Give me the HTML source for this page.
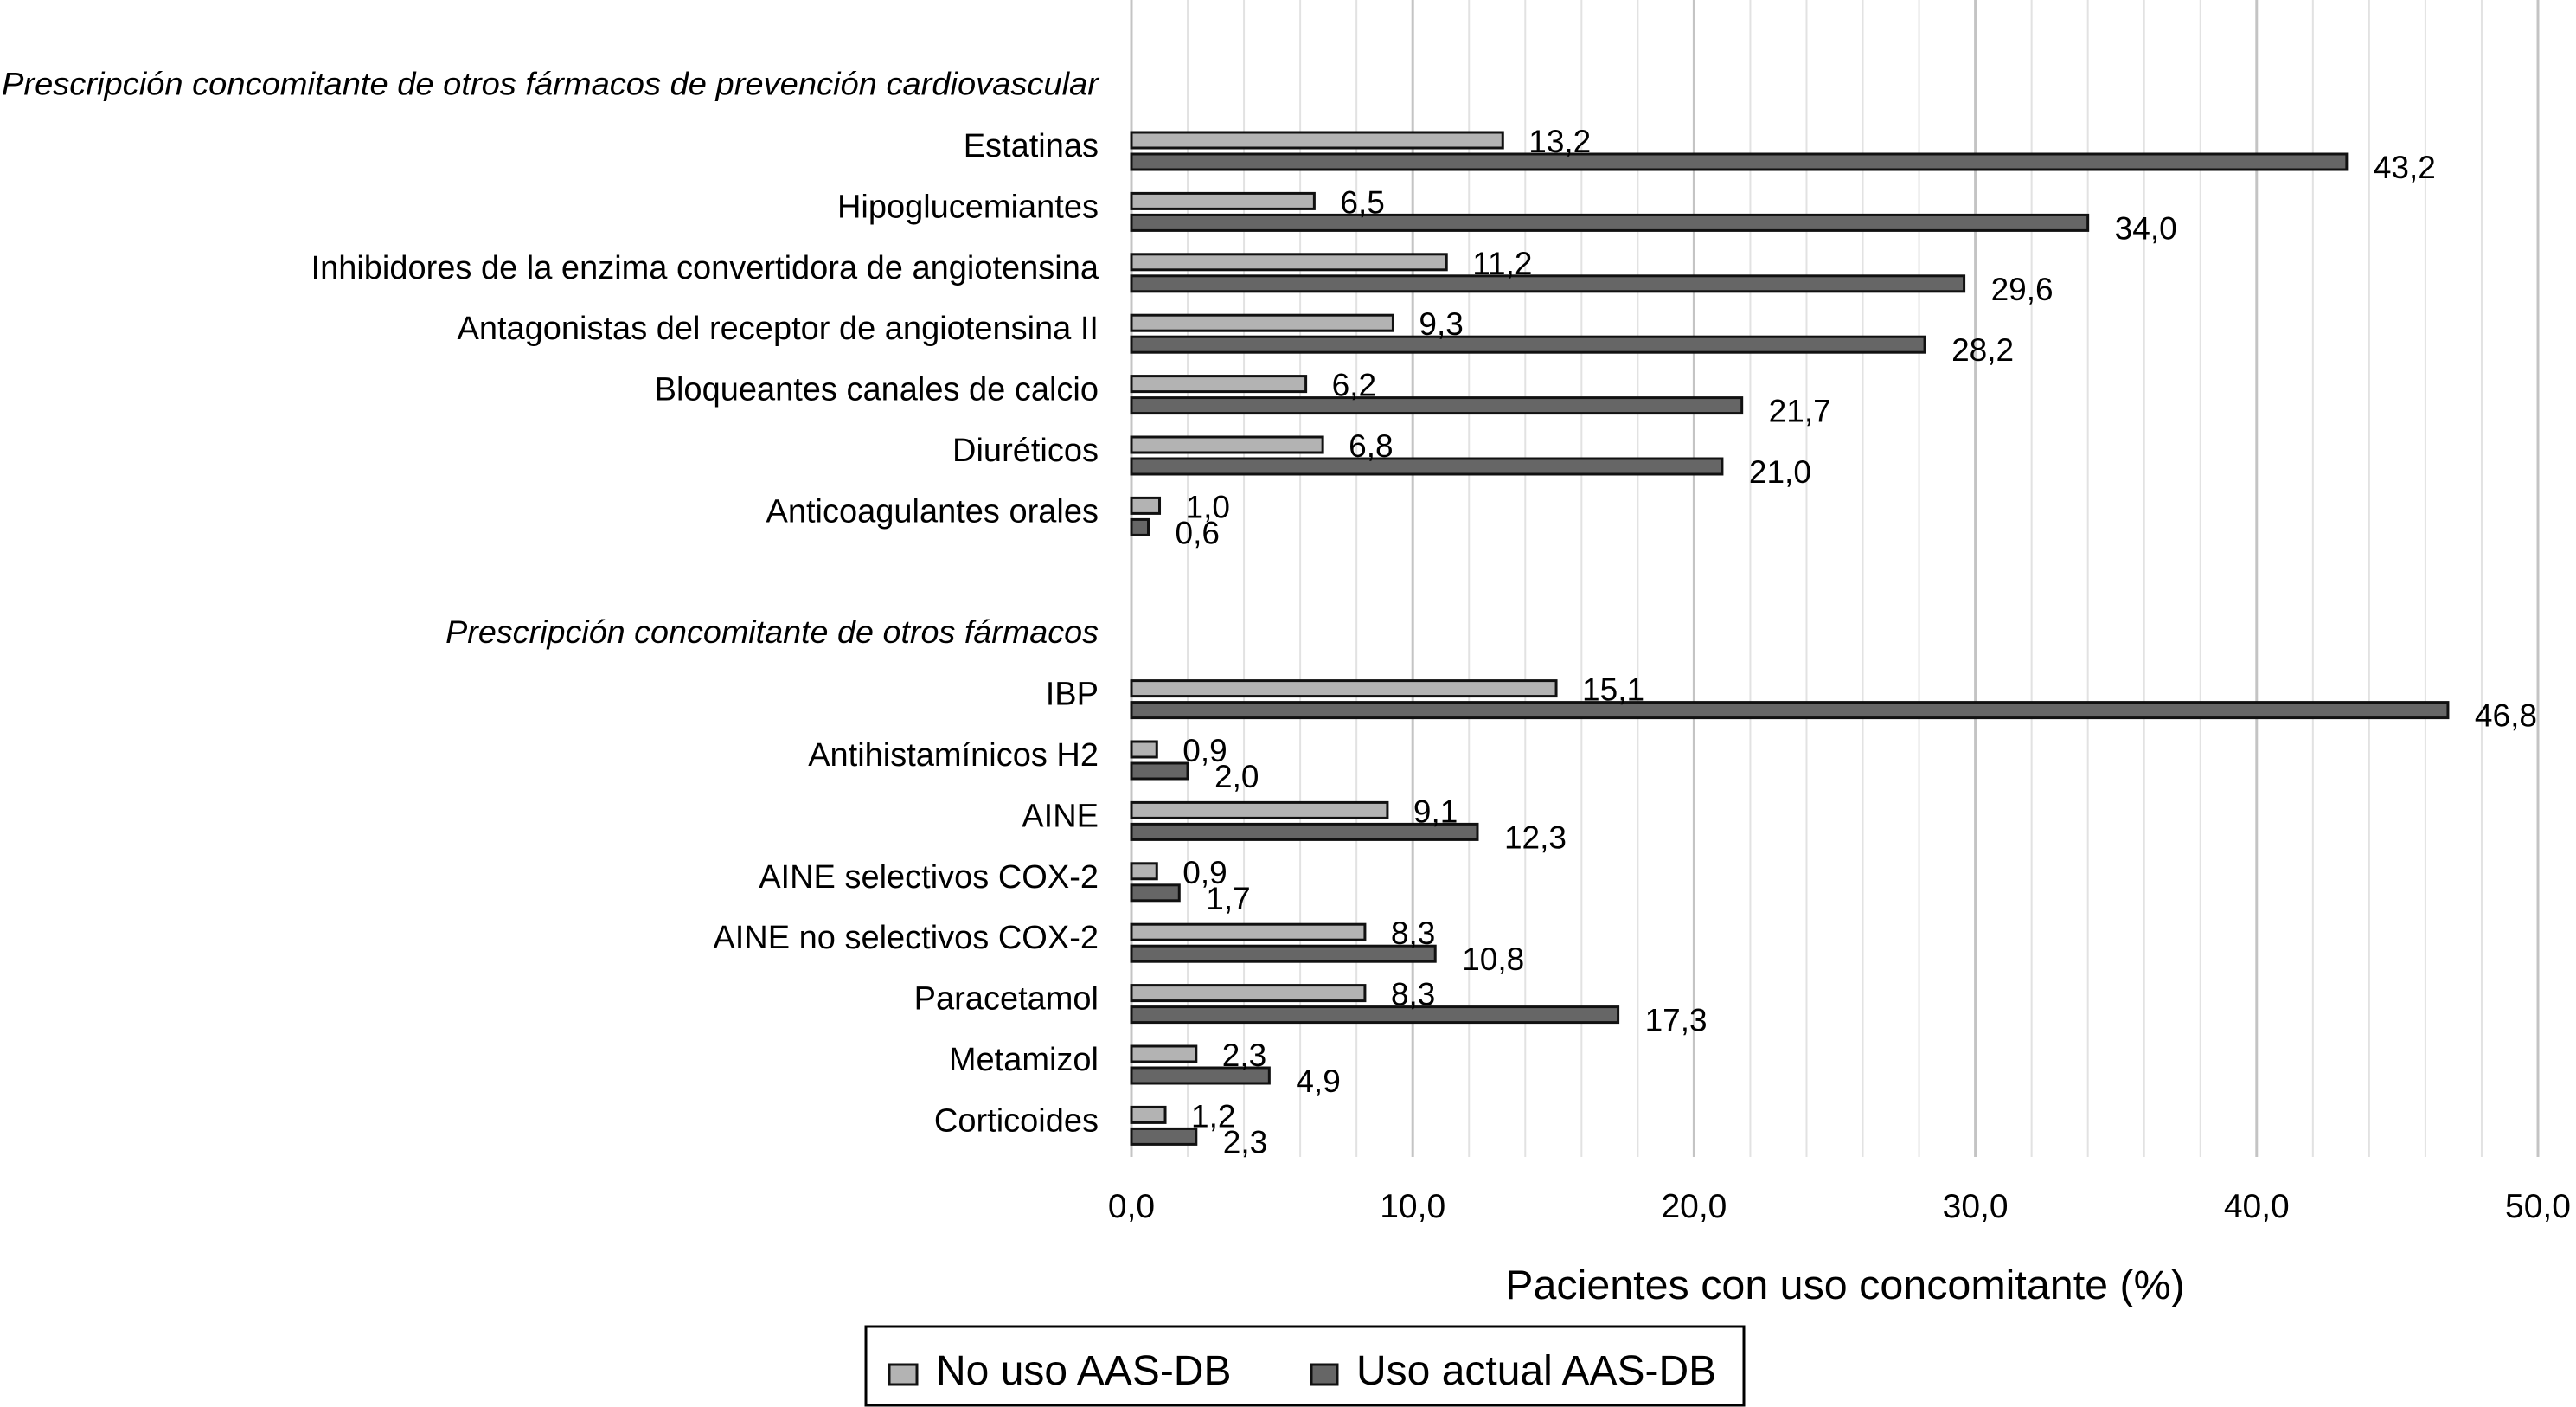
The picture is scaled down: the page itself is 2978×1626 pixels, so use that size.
<!DOCTYPE html>
<html><head><meta charset="utf-8"><style>
html,body{margin:0;padding:0;background:#fff;}
svg{display:block;font-family:"Liberation Sans",Arial,sans-serif;}
</style></head><body>
<svg id="chart" width="2978" height="1626" viewBox="0 0 2978 1626" xmlns="http://www.w3.org/2000/svg">
<g id="grid"></g>
<g id="labels"></g>
<g id="bars"></g>
<g id="xaxis"></g>
<text x="2133" y="1501" font-size="47" text-anchor="middle" transform="translate(2133,0) scale(1.03,1) translate(-2133,0)">Pacientes con uso concomitante (%)</text>
<g>
<rect x="1001" y="1533" width="1015" height="91" fill="#fff" stroke="#000" stroke-width="3"/>
<rect x="1028" y="1577" width="32" height="23" fill="#b3b3b3" stroke="#111" stroke-width="3"/>
<text x="1082" y="1600" font-size="48">No uso AAS-DB</text>
<rect x="1516" y="1577" width="30" height="23" fill="#666" stroke="#111" stroke-width="3"/>
<text x="1568" y="1600" font-size="48">Uso actual AAS-DB</text>
</g>
</svg>
<script>
const categories = ["Estatinas","Hipoglucemiantes","Inhibidores de la enzima convertidora de angiotensina","Antagonistas del receptor de angiotensina II","Bloqueantes canales de calcio","Diuréticos","Anticoagulantes orales","IBP","Antihistamínicos H2","AINE","AINE selectivos COX-2","AINE no selectivos COX-2","Paracetamol","Metamizol","Corticoides"];
const slots = [1,2,3,4,5,6,7,10,11,12,13,14,15,16,17];
const noUso = [13.2,6.5,11.2,9.3,6.2,6.8,1.0,15.1,0.9,9.1,0.9,8.3,8.3,2.3,1.2];
const usoActual = [43.2,34.0,29.6,28.2,21.7,21.0,0.6,46.8,2.0,12.3,1.7,10.8,17.3,4.9,2.3];
const headers = ["Prescripción concomitante de otros fármacos de prevención cardiovascular","Prescripción concomitante de otros fármacos"];
const headerSlots = [0,9];
const ticks = [0,10,20,30,40,50];
const tickLabels = ["0,0","10,0","20,0","30,0","40,0","50,0"];

const NS="http://www.w3.org/2000/svg";
const X0=1308, X1=2934, XMAX=50, PLOT_BOTTOM=1337;
function xs(v){return X0+(X1-X0)*v/XMAX;}
function slotTop(s){return 153+70.4*(s-1);}
function mk(tag,attrs,parent){const e=document.createElementNS(NS,tag);for(const k in attrs)e.setAttribute(k,attrs[k]);parent.appendChild(e);return e;}
function fmt(v){return v.toFixed(1).replace('.',',');}

const grid=document.getElementById('grid');
for(let v=0;v<=XMAX;v+=2){
  const major=(v%10===0);
  const l=mk('line',{x1:xs(v),x2:xs(v),y1:0,y2:PLOT_BOTTOM,stroke:major?'#c4c4c4':'#e2e2e2','stroke-width':major?3:2},grid);
  
  
}
const xa=document.getElementById('xaxis');
ticks.forEach((t,i)=>{
  const tx=mk('text',{x:xs(t),y:1407,'font-size':39,'text-anchor':'middle'},xa);
  tx.textContent=tickLabels[i];
  
  
});

const lab=document.getElementById('labels');
const RX=1270;
headers.forEach((h,i)=>{
  const y=slotTop(headerSlots[i])+27;
  const t=mk('text',{x:RX,y:y,'font-size':37,'font-style':'italic','text-anchor':'end'},lab);
  t.textContent=h;
  if(i===0){t.setAttribute('textLength',1268);t.setAttribute('lengthAdjust','spacingAndGlyphs');}
  else{t.setAttribute('transform',`translate(${RX},0) scale(1.02,1) translate(${-RX},0)`);}
  
  
});
const bars=document.getElementById('bars');
categories.forEach((c,i)=>{
  const top=slotTop(slots[i]);
  const t=mk('text',{x:RX,y:top+28,'font-size':38,'text-anchor':'end',transform:`translate(${RX},0) scale(1.0,1) translate(${-RX},0)`},lab);
  t.textContent=c;
  
  
  const b1=mk('rect',{x:X0,y:top,width:Math.max(xs(noUso[i])-X0,1),height:18,fill:'#b3b3b3',stroke:'#111','stroke-width':3},bars);
  
  
  const b2=mk('rect',{x:X0,y:top+25,width:Math.max(xs(usoActual[i])-X0,1),height:18,fill:'#666',stroke:'#111','stroke-width':3},bars);
  
  
  const v1=mk('text',{x:xs(noUso[i])+30,y:top+23,'font-size':37},bars);
  v1.textContent=fmt(noUso[i]);
  
  
  const v2=mk('text',{x:xs(usoActual[i])+31,y:top+53,'font-size':37},bars);
  v2.textContent=fmt(usoActual[i]);
  
  
});
</script>
</body></html>
